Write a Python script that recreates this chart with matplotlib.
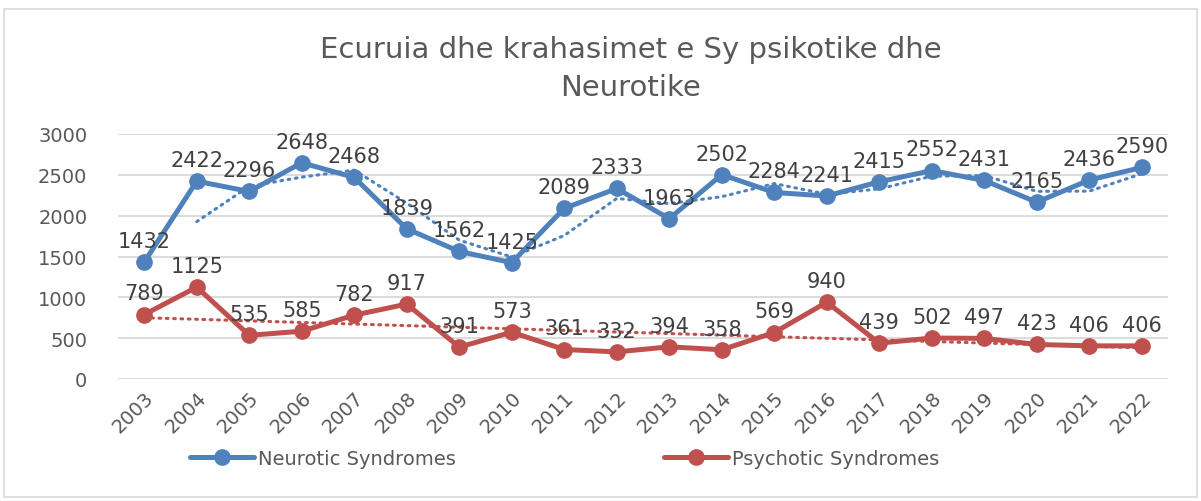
import numpy as np
import matplotlib.pyplot as plt
from matplotlib.patches import Rectangle

years = [str(y) for y in range(2003, 2023)]
neurotic = [1432, 2422, 2296, 2648, 2468, 1839, 1562, 1425, 2089, 2333,
            1963, 2502, 2284, 2241, 2415, 2552, 2431, 2165, 2436, 2590]
psychotic = [789, 1125, 535, 585, 782, 917, 391, 573, 361, 332,
             394, 358, 569, 940, 439, 502, 497, 423, 406, 406]

blue = '#4F81BD'
red = '#C0504D'
text_col = '#404040'

fig = plt.figure(figsize=(12.01, 5.02), dpi=100)
# chart frame like the Excel chart area
fig.patches.append(Rectangle((4 / 1201, 4 / 502), 1193 / 1201, 488 / 502,
                             transform=fig.transFigure, fill=False,
                             edgecolor='#D9D9D9', linewidth=1.2))

ax = fig.add_axes([118 / 1201, 122 / 502, 1050 / 1201, 245 / 502])
x = np.arange(len(years))

ax.plot(x, neurotic, color=blue, lw=3.6, marker='o', ms=11, label='Neurotic Syndromes',
        solid_capstyle='round', zorder=4)
ax.plot(x, psychotic, color=red, lw=3.6, marker='o', ms=11, label='Psychotic Syndromes',
        solid_capstyle='round', zorder=4)

# trend lines: 2 period moving average (blue) and linear (red)
ma = (np.array(neurotic[1:]) + np.array(neurotic[:-1])) / 2
ax.plot(x[1:], ma, color=blue, lw=2.2, ls=(0, (0.6, 1.8)), dash_capstyle='round', zorder=3)
k, b = np.polyfit(x, psychotic, 1)
ax.plot(x, k * x + b, color=red, lw=2.2, ls=(0, (0.6, 1.8)), dash_capstyle='round', zorder=3)

for xi, v in zip(x, neurotic):
    ax.annotate(str(v), (xi, v), xytext=(0, 8), textcoords='offset points',
                ha='center', va='bottom', fontsize=15, color=text_col, zorder=5)
for xi, v in zip(x, psychotic):
    ax.annotate(str(v), (xi, v), xytext=(0, 8), textcoords='offset points',
                ha='center', va='bottom', fontsize=15, color=text_col, zorder=5)

ax.set_xlim(-0.5, len(years) - 0.5)
ax.set_ylim(0, 3000)
ax.set_yticks(range(0, 3001, 500))
ax.set_xticks(x)
ax.set_xticklabels(years, rotation=45, ha='right', rotation_mode='anchor')
ax.tick_params(axis='both', length=0, labelsize=14, labelcolor='#595959')
ax.tick_params(axis='y', pad=22)
ax.tick_params(axis='x', pad=6)
ax.grid(axis='y', color='#D9D9D9', lw=1.3)
ax.set_axisbelow(True)
for s in ax.spines.values():
    s.set_visible(False)

fig.text(0.525, 0.862, 'Ecuruia dhe krahasimet e Sy psikotike dhe\nNeurotike',
         ha='center', va='center', fontsize=21, color='#595959', linespacing=1.45)

fig.legend(loc='center', bbox_to_anchor=(0.47, 0.085), ncol=2, frameon=False,
           fontsize=14, handlelength=3.3, columnspacing=10.7, handletextpad=0.2,
           labelcolor='#595959')

fig.savefig('out.png', dpi=100)
